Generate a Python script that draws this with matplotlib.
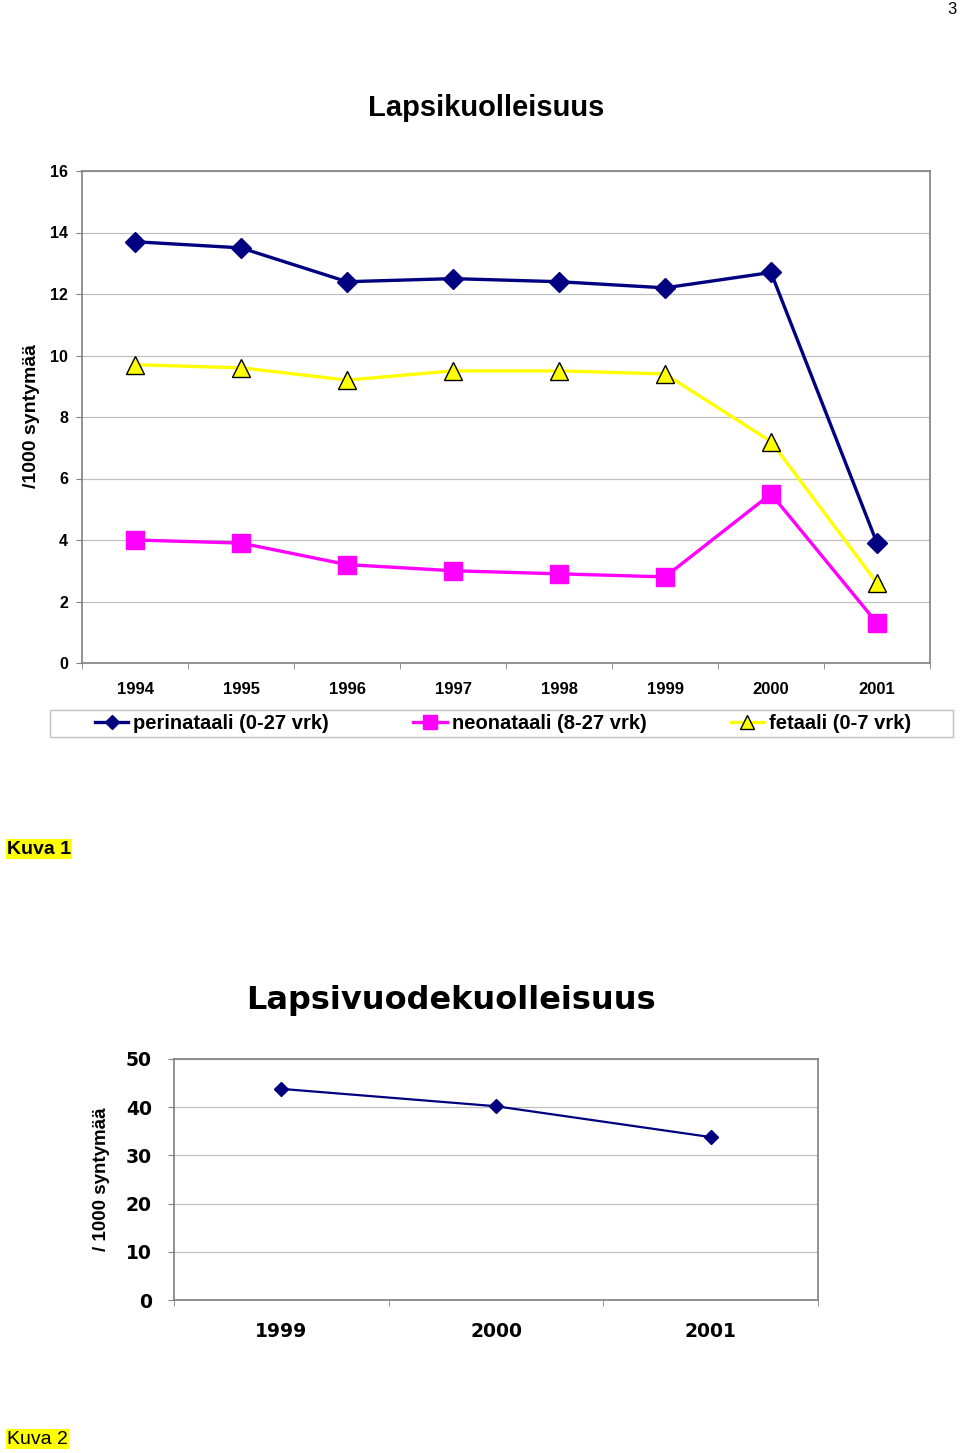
"""
Lapsikuolleisuus ja lapsivuodekuolleisuus, kaksi Excel-tyylistä viivakaaviota.
"""
import numpy as np
import matplotlib
matplotlib.use("Agg")
import matplotlib.pyplot as plt
from matplotlib.patches import Rectangle

# --- data ---------------------------------------------------------------
years1 = ["1994", "1995", "1996", "1997", "1998", "1999", "2000", "2001"]
perinataali = [13.7, 13.5, 12.4, 12.5, 12.4, 12.2, 12.7, 3.9]
neonataali = [4.0, 3.9, 3.2, 3.0, 2.9, 2.8, 5.5, 1.3]
fetaali = [9.7, 9.6, 9.2, 9.5, 9.5, 9.4, 7.2, 2.6]
labels1 = ["perinataali (0-27 vrk)", "neonataali (8-27 vrk)", "fetaali (0-7 vrk)"]
yticks1 = [0, 2, 4, 6, 8, 10, 12, 14, 16]

years2 = ["1999", "2000", "2001"]
lapsivuode = [43.8, 40.2, 33.8]
yticks2 = [0, 10, 20, 30, 40, 50]

W, H = 960, 1453
GRID = "#C0C0C0"
AXIS = "#808080"
SANS = ["Liberation Sans", "DejaVu Sans"]

plt.rcParams["font.family"] = SANS

fig = plt.figure(figsize=(W / 100, H / 100), dpi=100)


def fx(px):
    return px / W


def fy(py):
    return 1 - py / H


def style_axes(ax):
    for s in ax.spines.values():
        s.set_color(AXIS)
        s.set_linewidth(1.2)
    ax.grid(axis="y", color=GRID, linewidth=0.9)
    ax.set_axisbelow(True)
    ax.tick_params(axis="x", which="major", length=0)
    ax.tick_params(axis="x", which="minor", length=4, color=AXIS, direction="out")
    ax.tick_params(axis="y", length=4, color=AXIS, direction="out")


# --- kaavio 1 -----------------------------------------------------------
ax1 = fig.add_axes([fx(82), fy(663), fx(930) - fx(82), fy(171) - fy(663)])
x1 = np.arange(len(years1))
ax1.plot(x1, perinataali, color="#000080", lw=2.4, marker="D", ms=10,
         mfc="#000080", mec="#000080", label=labels1[0])
ax1.plot(x1, neonataali, color="#FF00FF", lw=2.4, marker="s", ms=12.5,
         mfc="#FF00FF", mec="#FF00FF", label=labels1[1])
ax1.plot(x1, fetaali, color="#FFFF00", lw=2.4, marker="^", ms=13,
         mfc="#FFFF00", mec="black", mew=1.0, label=labels1[2])
ax1.set_xlim(-0.5, len(years1) - 0.5)
ax1.set_ylim(0, 16)
ax1.set_yticks(yticks1)
ax1.set_yticklabels([str(v) for v in yticks1], fontsize=11.5, fontweight="bold")
ax1.set_xticks(x1)
ax1.set_xticklabels(years1, fontsize=12, fontweight="bold")
ax1.set_xticks(np.arange(-0.5, len(years1)), minor=True)
style_axes(ax1)
ax1.tick_params(axis="x", which="major", pad=14)
ax1.tick_params(axis="y", pad=6)

leg = ax1.legend(loc="center", bbox_to_anchor=(fx(95), fy(737), fx(911) - fx(95), 27 / H),
                 bbox_transform=fig.transFigure, mode="expand", ncol=3,
                 frameon=False, borderpad=0, borderaxespad=0,
                 handlelength=1.65, handletextpad=0.25, markerscale=0.75,
                 prop={"family": SANS, "weight": "bold", "size": 14.5})
fig.patches.append(Rectangle((fx(50), fy(737)), fx(953) - fx(50), 27 / H,
                             transform=fig.transFigure, fill=False,
                             edgecolor=GRID, linewidth=1.0))

fig.text(fx(486), fy(108), "Lapsikuolleisuus", ha="center", va="center",
         fontsize=21, fontweight="bold")
fig.text(fx(32), fy(416), "/1000 syntymää", rotation=90, ha="center", va="center",
         fontsize=14, fontweight="bold")

fig.text(fx(7), fy(849), "Kuva 1", ha="left", va="center", fontsize=14,
         fontweight="bold", bbox=dict(facecolor="#FFFF00", edgecolor="none", pad=1))

# --- kaavio 2 -----------------------------------------------------------
ax2 = fig.add_axes([fx(174), fy(1300), fx(818) - fx(174), fy(1059) - fy(1300)])
x2 = np.arange(len(years2))
ax2.plot(x2, lapsivuode, color="#000080", lw=1.6, marker="D", ms=7,
         mfc="#000080", mec="#000080")
ax2.set_xlim(-0.5, len(years2) - 0.5)
ax2.set_ylim(0, 50)
ax2.set_yticks(yticks2)
ax2.set_yticklabels([str(v) for v in yticks2], fontsize=13.5, fontweight="bold",
                    family="DejaVu Sans")
ax2.set_xticks(x2)
ax2.set_xticklabels(years2, fontsize=13.5, fontweight="bold", family="DejaVu Sans")
ax2.set_xticks(np.arange(-0.5, len(years2)), minor=True)
style_axes(ax2)
ax2.tick_params(axis="x", which="major", pad=16)
ax2.tick_params(axis="y", pad=12)

fig.text(fx(451), fy(1001), "Lapsivuodekuolleisuus", ha="center", va="center",
         fontsize=23, fontweight="bold", family="DejaVu Sans")
fig.text(fx(102), fy(1179), "/ 1000 syntymää", rotation=90, ha="center", va="center",
         fontsize=13.5, fontweight="bold")

fig.text(fx(7), fy(1439), "Kuva 2", ha="left", va="center", fontsize=14,
         bbox=dict(facecolor="#FFFF00", edgecolor="none", pad=1))

fig.text(fx(952), fy(10), "3", ha="center", va="center", fontsize=12)

fig.savefig("out.png", dpi=100, facecolor="white")
plt.close(fig)
